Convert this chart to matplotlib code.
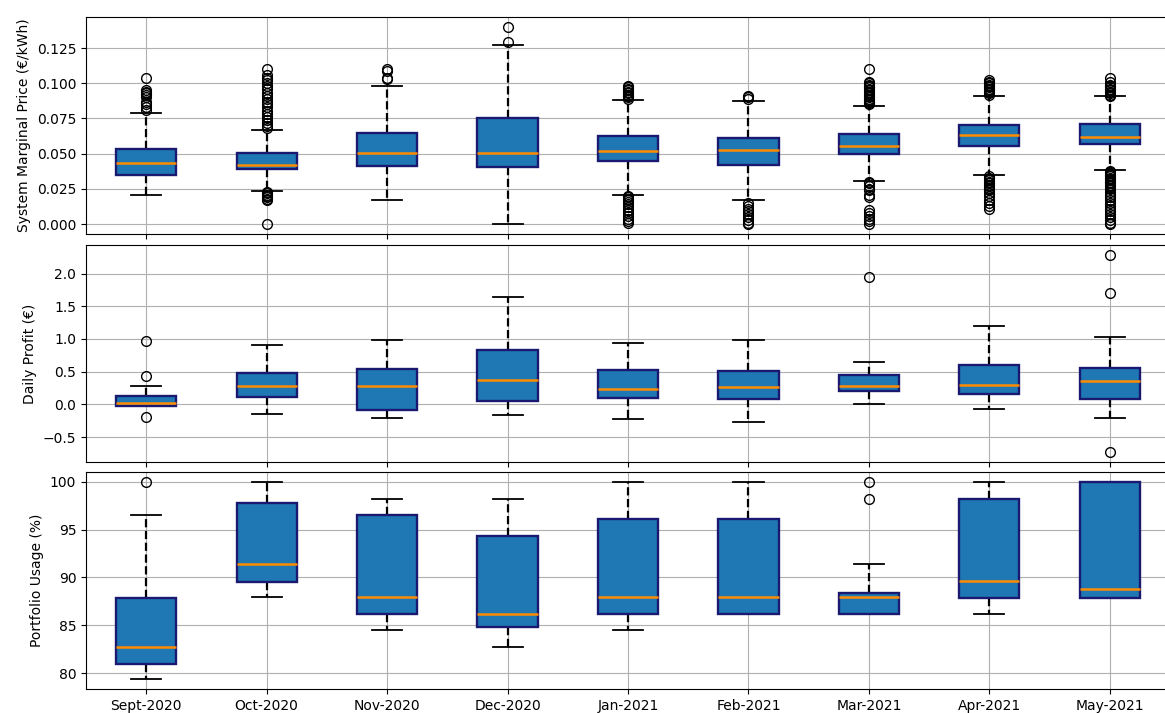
import matplotlib
matplotlib.use("Agg")
import matplotlib.pyplot as plt

months = ["Sept-2020", "Oct-2020", "Nov-2020", "Dec-2020", "Jan-2021",
          "Feb-2021", "Mar-2021", "Apr-2021", "May-2021"]

# System marginal price (EUR/kWh)
smp_lo = [0.021, 0.0234, 0.0168, 0.000, 0.0204, 0.0168, 0.0308, 0.0350, 0.0386]
smp_q1 = [0.035, 0.039, 0.041, 0.0407, 0.0447, 0.0419, 0.0497, 0.0554, 0.0568]
smp_med = [0.0433, 0.042, 0.0507, 0.0507, 0.0521, 0.0528, 0.0552, 0.0634, 0.062]
smp_q3 = [0.053, 0.0502, 0.0644, 0.0755, 0.0627, 0.0608, 0.0637, 0.0705, 0.071]
smp_hi = [0.0788, 0.067, 0.0978, 0.127, 0.0883, 0.0876, 0.0836, 0.0911, 0.0907]
smp_fliers = [
    [0.104, 0.095, 0.094, 0.093, 0.092, 0.090, 0.087, 0.085, 0.083, 0.081],
    [0.110, 0.106, 0.104, 0.102, 0.100, 0.098, 0.096, 0.093, 0.091, 0.089,
     0.087, 0.085, 0.083, 0.080, 0.078, 0.076, 0.074, 0.072, 0.070, 0.068,
     0.023, 0.022, 0.021, 0.020, 0.019, 0.018, 0.017, 0.000],
    [0.110, 0.109, 0.104, 0.103],
    [0.140, 0.129],
    [0.098, 0.097, 0.096, 0.095, 0.094, 0.093, 0.092, 0.091, 0.090, 0.089,
     0.020, 0.019, 0.018, 0.017, 0.016, 0.014, 0.012, 0.010, 0.008, 0.006,
     0.004, 0.002, 0.001],
    [0.091, 0.090, 0.089, 0.015, 0.013, 0.011, 0.009, 0.007, 0.005, 0.003,
     0.001, 0.000],
    [0.110, 0.101, 0.100, 0.099, 0.098, 0.097, 0.096, 0.095, 0.094, 0.093,
     0.092, 0.091, 0.090, 0.089, 0.088, 0.087, 0.086, 0.085,
     0.030, 0.029, 0.027, 0.025, 0.024, 0.021, 0.019, 0.010, 0.008, 0.006,
     0.004, 0.002, 0.000],
    [0.102, 0.101, 0.100, 0.099, 0.098, 0.097, 0.096, 0.095, 0.094, 0.093,
     0.092, 0.034, 0.033, 0.032, 0.031, 0.030, 0.029, 0.028, 0.027, 0.026,
     0.025, 0.024, 0.022, 0.020, 0.017, 0.015, 0.013, 0.011],
    [0.104, 0.101, 0.099, 0.098, 0.097, 0.096, 0.095, 0.094, 0.093, 0.092,
     0.091, 0.038, 0.037, 0.036, 0.035, 0.034, 0.033, 0.032, 0.031, 0.030,
     0.029, 0.028, 0.027, 0.026, 0.025, 0.023, 0.021, 0.019, 0.017, 0.015,
     0.013, 0.011, 0.009, 0.007, 0.005, 0.003, 0.001, 0.000],
]

# Daily profit (EUR)
prof_lo = [-0.03, -0.148, -0.214, -0.168, -0.224, -0.27, 0.0, -0.077, -0.209]
prof_q1 = [-0.02, 0.107, -0.087, 0.056, 0.097, 0.077, 0.204, 0.163, 0.077]
prof_med = [0.026, 0.28, 0.28, 0.372, 0.23, 0.27, 0.281, 0.291, 0.352]
prof_q3 = [0.133, 0.48, 0.536, 0.827, 0.526, 0.515, 0.449, 0.607, 0.556]
prof_hi = [0.276, 0.913, 0.98, 1.648, 0.934, 0.98, 0.643, 1.199, 1.036]
prof_fliers = [[0.964, 0.43, -0.194], [], [], [], [], [], [1.944], [],
               [2.286, 1.709, -0.73]]

# Portfolio usage (%)
use_lo = [79.37, 87.94, 84.48, 82.76, 84.48, 86.15, 86.15, 86.22, 87.87]
use_q1 = [80.94, 89.58, 86.15, 84.83, 86.15, 86.15, 86.15, 87.87, 87.87]
use_med = [82.73, 91.36, 87.94, 86.19, 87.94, 87.94, 87.94, 89.62, 88.78]
use_q3 = [87.9, 97.76, 96.57, 94.37, 96.12, 96.12, 88.36, 98.25, 100.0]
use_hi = [96.57, 100.0, 98.25, 98.25, 100.0, 100.0, 91.4, 100.0, 100.0]
use_fliers = [[100.0], [], [], [], [], [], [100.0, 98.25], [], []]


def make_stats(lo, q1, med, q3, hi, fl):
    return [dict(whislo=lo[i], q1=q1[i], med=med[i], q3=q3[i], whishi=hi[i],
                 fliers=fl[i], label=months[i]) for i in range(len(months))]


panels = [
    (make_stats(smp_lo, smp_q1, smp_med, smp_q3, smp_hi, smp_fliers),
     "System Marginal Price (€/kWh)"),
    (make_stats(prof_lo, prof_q1, prof_med, prof_q3, prof_hi, prof_fliers),
     "Daily Profit (€)"),
    (make_stats(use_lo, use_q1, use_med, use_q3, use_hi, use_fliers),
     "Portfolio Usage (%)"),
]

W, H = 1165, 713
fig = plt.figure(figsize=(W / 100, H / 100), dpi=100)
# axes boxes in pixels: (top, bottom); right edge runs just past the canvas
rows = [(17, 234), (245, 462), (472, 689)]
left_px, right_px = 86, 1170

axes = []
for i, (top, bot) in enumerate(rows):
    rect = [left_px / W, 1 - bot / H, (right_px - left_px) / W, (bot - top) / H]
    ax = fig.add_axes(rect, sharex=axes[0] if axes else None)
    axes.append(ax)

for ax, (stats, ylabel) in zip(axes, panels):
    ax.bxp(stats, positions=range(1, len(months) + 1), widths=0.5,
           patch_artist=True,
           boxprops=dict(facecolor="#1f77b4", edgecolor="#191970", linewidth=1.7,
                         zorder=2.2),
           medianprops=dict(color="darkorange", linewidth=1.8, zorder=2.3),
           whiskerprops=dict(color="black", linestyle="--", linewidth=1.6),
           capprops=dict(color="black", linewidth=1.3),
           flierprops=dict(marker="o", markerfacecolor="none",
                           markeredgecolor="black", markersize=7))
    ax.set_ylabel(ylabel, fontsize=10)
    ax.grid(True)

for ax in axes[:-1]:
    ax.tick_params(labelbottom=False)
axes[-1].set_xticks(range(1, len(months) + 1))
axes[-1].set_xticklabels(months, fontsize=10)
axes[-1].set_xlim(0.5, len(months) + 0.5)

plt.savefig("out.png", dpi=100)
